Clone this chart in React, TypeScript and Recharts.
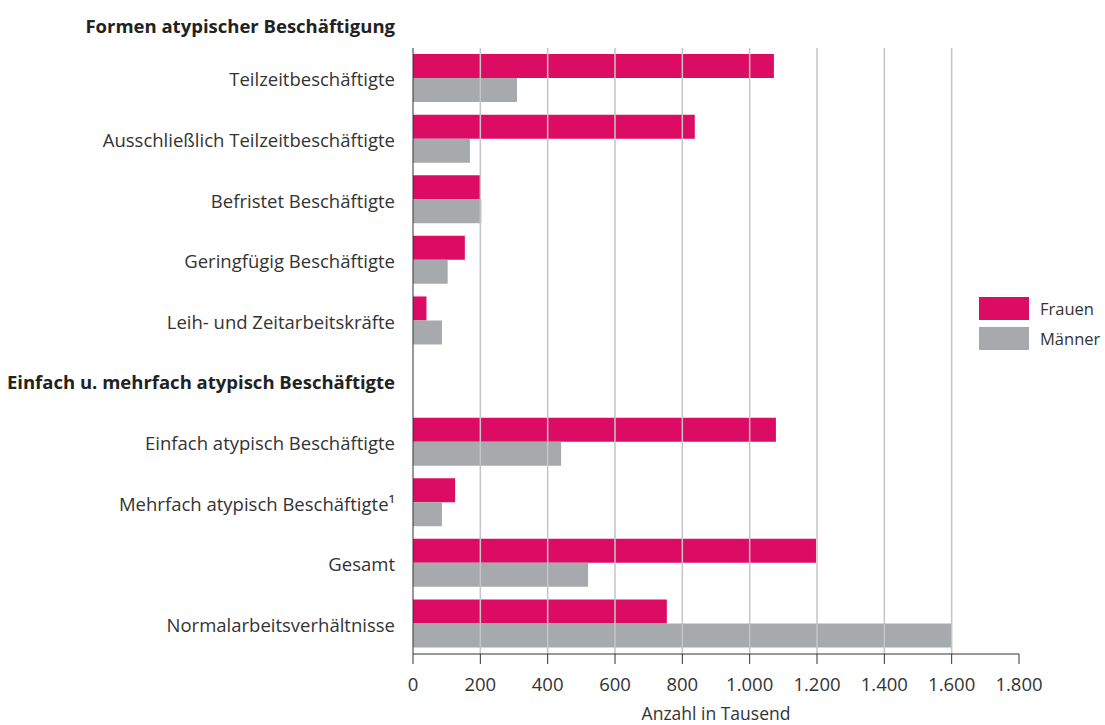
import React from "react";
import { BarChart, Bar, XAxis, YAxis, ReferenceLine } from "recharts";

const categories = [
  "Teilzeitbeschäftigte",
  "Ausschließlich Teilzeitbeschäftigte",
  "Befristet Beschäftigte",
  "Geringfügig Beschäftigte",
  "Leih- und Zeitarbeitskräfte",
  "Einfach u. mehrfach atypisch Beschäftigte",
  "Einfach atypisch Beschäftigte",
  "Mehrfach atypisch Beschäftigte¹",
  "Gesamt",
  "Normalarbeitsverhältnisse",
];
const frauen = [1072, 837, 199, 154, 40, null, 1078, 125, 1197, 754];
const maenner = [309, 169, 203, 103, 86, null, 440, 86, 520, 1601];
const xTicks = [0, 200, 400, 600, 800, 1000, 1200, 1400, 1600, 1800];
const gridValues = [200, 400, 600, 800, 1000, 1200, 1400, 1600];
const sectionTitle = "Formen atypischer Beschäftigung";
const groupHeaders = ["Einfach u. mehrfach atypisch Beschäftigte"];

const data = categories.map((name, i) => ({
  name,
  Frauen: frauen[i],
  Männer: maenner[i],
}));

const PINK = "#dc0c64";
const GRAY = "#a7aaad";
const TEXT = "#333333";
const FONT = "'Open Sans', sans-serif";
const FS = 18.5;

const fmt = (v: number) => v.toLocaleString("de-DE");

function CategoryTick(props: any) {
  const { x, y, payload } = props;
  const bold = groupHeaders.includes(payload.value);
  return (
    <text
      x={x}
      y={y}
      dy={8}
      textAnchor="end"
      fill={bold ? "#222" : TEXT}
      fontWeight={bold ? 700 : 400}
      fontSize={FS}
      fontFamily={FONT}
    >
      {payload.value}
    </text>
  );
}

export default function App() {
  return (
    <div style={{ position: "absolute", left: 0, top: 0, width: 1105, height: 725, background: "#fff", fontFamily: FONT }}>
      <div
        style={{
          position: "absolute",
          top: 13,
          right: 1105 - 395,
          fontSize: FS,
          fontWeight: 700,
          color: "#222",
          whiteSpace: "nowrap",
        }}
      >
        {sectionTitle}
      </div>
      <BarChart
        width={1105}
        height={725}
        data={data}
        layout="vertical"
        margin={{ top: 48, right: 86, bottom: 0, left: 0 }}
        barCategoryGap="10%"
        barGap={0}
      >
        {gridValues.map((v) => (
          <ReferenceLine key={v} x={v} stroke="#c4c4c4" strokeWidth={1.5} />
        ))}
        <XAxis
          type="number"
          domain={[0, 1800]}
          ticks={xTicks}
          tickFormatter={fmt}
          stroke="#333"
          tickSize={10}
          tick={{ fill: TEXT, fontSize: FS, fontFamily: FONT }}
          tickMargin={14}
          label={{ value: "Anzahl in Tausend", position: "insideBottom", offset: 5, fill: TEXT, fontSize: 17.5, fontFamily: FONT }}
          height={71}
        />
        <YAxis
          type="category"
          dataKey="name"
          width={413}
          stroke="#333"
          tickLine={false}
          tickSize={0}
          tickMargin={18}
          tick={<CategoryTick />}
          interval={0}
        />
        <Bar dataKey="Frauen" fill={PINK} isAnimationActive={false} />
        <Bar dataKey="Männer" fill={GRAY} isAnimationActive={false} />
      </BarChart>
      <div style={{ position: "absolute", left: 979, top: 297, fontSize: 16.5, color: TEXT }}>
        {[
          ["Frauen", PINK],
          ["Männer", GRAY],
        ].map(([label, color]) => (
          <div key={label} style={{ display: "flex", alignItems: "center", height: 23, marginBottom: 7 }}>
            <div style={{ width: 50, height: 23, background: color }} />
            <span style={{ marginLeft: 11, whiteSpace: "nowrap" }}>{label}</span>
          </div>
        ))}
      </div>
    </div>
  );
}
